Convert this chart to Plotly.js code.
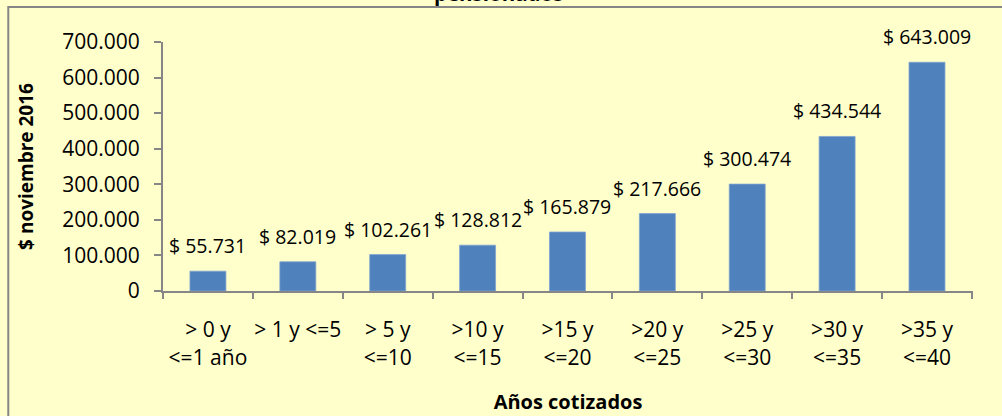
<!DOCTYPE html>
<html>
<head>
<meta charset="utf-8">
<script src="https://cdn.plot.ly/plotly-3.0.1.min.js"></script>
<style>
  html, body { margin: 0; padding: 0; background: #FFFFCC; }
  #chart { width: 1002px; height: 416px; }
</style>
</head>
<body>
<div id="chart"></div>
<script>
// Categories (años cotizados) and values ($ noviembre 2016)
const categories = [
  "> 0 y<br><=1 año",
  "> 1 y <=5",
  "> 5 y<br><=10",
  ">10 y<br><=15",
  ">15 y<br><=20",
  ">20 y<br><=25",
  ">25 y<br><=30",
  ">30 y<br><=35",
  ">35 y<br><=40"
];
const values = [55731, 82019, 102261, 128812, 165879, 217666, 300474, 434544, 643009];
const valueLabels = ["$ 55.731", "$ 82.019", "$ 102.261", "$ 128.812", "$ 165.879",
                     "$ 217.666", "$ 300.474", "$ 434.544", "$ 643.009"];
const yTickVals = [0, 100000, 200000, 300000, 400000, 500000, 600000, 700000];
const titleText = "<b>pensionados</b>";

const FONT = "Open Sans, Noto Sans, sans-serif";
const gray = "#868686";

const trace = {
  type: "bar",
  x: categories,
  y: values,
  width: 0.4,
  marker: { color: "#4F81BD", line: { color: "#7FA3D0", width: 0.8 } },
  hoverinfo: "none"
};

const annotations = categories.map((c, i) => ({
  x: c, y: values[i], xref: "x", yref: "y",
  text: valueLabels[i], showarrow: false,
  yanchor: "bottom", yshift: 10,
  font: { family: FONT, size: 19.5, color: "#000" }
}));
// chart title (only its last line is visible in the reference, cut at the top edge)
annotations.push({
  text: titleText, xref: "paper", yref: "paper",
  x: 0.4136, xanchor: "center", y: 1.1325, yanchor: "bottom",
  showarrow: false,
  font: { family: FONT, size: 20.5, color: "#000" }
});

const layout = {
  width: 1002, height: 416,
  paper_bgcolor: "#FFFFCC",
  plot_bgcolor: "#FFFFCC",
  separators: ",.",
  margin: { l: 163, r: 29, t: 42, b: 125 },
  showlegend: false,
  xaxis: {
    type: "category",
    tickson: "boundaries",
    tickangle: 0,
    ticks: "outside", ticklen: 6, tickwidth: 2, tickcolor: gray,
    showline: true, linecolor: gray, linewidth: 2,
    showgrid: false, zeroline: false,
    tickfont: { family: FONT, size: 21, color: "#000" },
    ticklabelstandoff: 19,
    title: { text: "<b>Años cotizados</b>", font: { family: FONT, size: 20, color: "#000" }, standoff: 25 },
    automargin: false
  },
  yaxis: {
    range: [0, 700000],
    tickvals: yTickVals,
    tickformat: ",d",
    ticks: "outside", ticklen: 7, tickwidth: 2, tickcolor: gray,
    showline: true, linecolor: gray, linewidth: 2,
    showgrid: false, zeroline: false,
    tickfont: { family: FONT, size: 21, color: "#000" },
    ticklabelstandoff: 10,
    title: { text: "<b>$ noviembre 2016</b>", font: { family: FONT, size: 19, color: "#000" }, standoff: 24 },
    automargin: false
  },
  annotations: annotations,
  shapes: [{
    type: "path", xref: "paper", yref: "paper",
    path: "M -0.191,-0.6 L -0.191,1.1406 L 1.1,1.1406",
    line: { color: gray, width: 2 }
  }]
};

Plotly.newPlot("chart", [trace], layout, { staticPlot: true, displayModeBar: false });
</script>
</body>
</html>
